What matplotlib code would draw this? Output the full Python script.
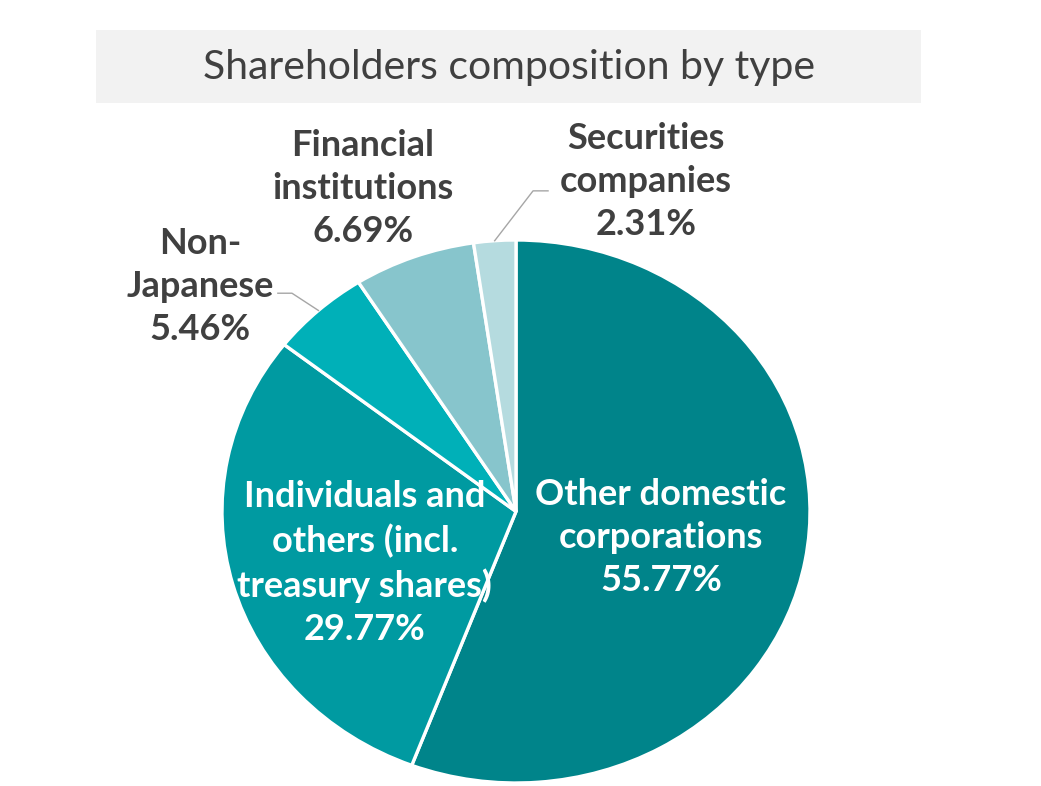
import numpy as np
import matplotlib
matplotlib.use("Agg")
import matplotlib.pyplot as plt
from matplotlib.patches import Rectangle

# data
labels = ["Other domestic\ncorporations", "Individuals and\nothers (incl.\ntreasury shares)",
          "Non-\nJapanese", "Financial\ninstitutions", "Securities\ncompanies"]
shares = [55.77, 29.77, 5.46, 6.69, 2.31]
colors = ["#00848A", "#009AA1", "#00B0B8", "#87C5CC", "#B5DBDF"]
title = "Shareholders composition by type"

plt.rcParams['font.family'] = ['Lato', 'DejaVu Sans']

W, H = 1041, 786
fig = plt.figure(figsize=(W / 100, H / 100), dpi=100)

# title band
fig.patches.append(Rectangle((96 / W, 1 - 103 / H), (921 - 96) / W, 73 / H,
                             transform=fig.transFigure, facecolor="#F2F2F2",
                             edgecolor="none", zorder=0))
fig.text(509 / W, 1 - 68 / H, title, ha="center", va="center",
         fontsize=29.5, color="#404040")

# pie area (slightly stretched horizontally, like the original)
ax = fig.add_axes([222 / W, 3 / H, 588 / W, 543 / H])
wedges, _ = ax.pie(shares, colors=colors, startangle=90, counterclock=False,
                   wedgeprops=dict(edgecolor="white", linewidth=2.4))
ax.set_aspect("auto")
ax.set_xlim(-1, 1)
ax.set_ylim(-1, 1)
ax.axis("off")

# label placement (data coords of the pie axes)
label_pos = [(0.493, -0.095), (-0.514, -0.19), (-1.075, 0.83), (-0.52, 1.19), (0.442, 1.215)]
inside = [True, True, False, False, False]
for lab, val, (x, y), ins in zip(labels, shares, label_pos, inside):
    ax.text(x, y, f"{lab}\n{val:.2f}%", ha="center", va="center", fontsize=26,
            fontweight="bold", color="white" if ins else "#404040",
            linespacing=1.37, clip_on=False)

# leader lines for the two small outside slices
elbows = {2: [(-0.81, 0.804), (-0.762, 0.804)], 4: [(0.109, 1.181), (0.058, 1.181)]}
cum = np.cumsum([0] + shares)
for i, pts in elbows.items():
    mid = (cum[i] + cum[i + 1]) / 2 / 100 * 2 * np.pi
    ex, ey = np.sin(mid), np.cos(mid)
    xs = [p[0] for p in pts] + [ex]
    ys = [p[1] for p in pts] + [ey]
    ax.plot(xs, ys, color="#A6A6A6", linewidth=1.0, clip_on=False)

fig.savefig("out.png", dpi=100, facecolor="white")
